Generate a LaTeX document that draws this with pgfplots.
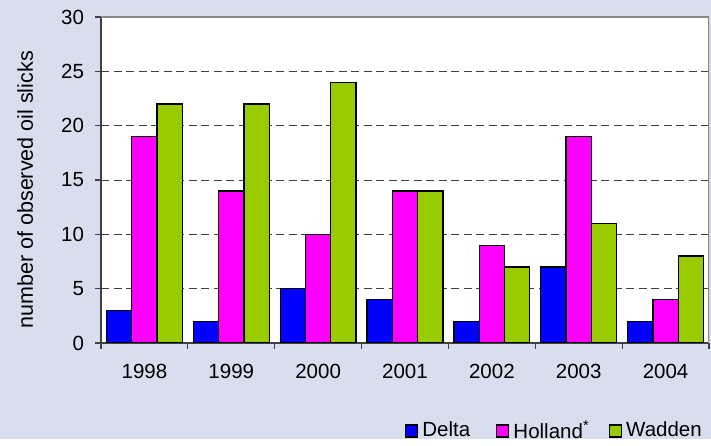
\documentclass[border=0pt]{standalone}
\usepackage{fontspec}
\setmainfont{Liberation Sans}
\usepackage{pgfplots}
\pgfplotsset{compat=1.18}
\definecolor{bg}{RGB}{217,222,238}
\definecolor{delta}{RGB}{0,0,255}
\definecolor{holland}{RGB}{255,0,255}
\definecolor{wadden}{RGB}{153,204,0}
\definecolor{axgray}{RGB}{64,64,64}
\definecolor{frgray}{RGB}{136,136,136}
\begin{document}
\fontsize{20.5pt}{24pt}\selectfont
\begin{tikzpicture}
\fill[bg] (0,0) rectangle (711pt,439pt);
\begin{axis}[
  at={(101pt,96pt)}, anchor=south west,
  scale only axis, width=608pt, height=326pt,
  xmin=-0.5, xmax=6.5, ymin=0, ymax=30,
  axis background/.style={fill=white},
  axis x line*=bottom, axis y line*=left,
  axis line style={draw=axgray, line width=1.3pt, -},
  ytick={0,5,...,30},
  xtick={0,...,6},
  xticklabels={1998,1999,2000,2001,2002,2003,2004},
  major x tick style={draw=none},
  minor xtick={-0.5,0.5,...,6.5},
  tick align=outside,
  major tick length=6pt, minor tick length=6pt,
  tick style={draw=axgray, line width=1.2pt},
  ymajorgrids,
  grid style={draw=axgray, line width=0.9pt, dash pattern=on 8pt off 4.5pt},
  /pgf/number format/assume math mode=true,
  ticklabel style={font=\fontsize{20.5pt}{24pt}\selectfont},
  xticklabel style={yshift=-8pt},
  yticklabel style={xshift=-4pt},
  ylabel={number of observed oil slicks},
  ylabel style={font=\fontsize{21.5pt}{25pt}\selectfont, at={(axis description cs:-0.10,0.47)}, anchor=south},
  legend columns=3,
  legend style={at={(axis description cs:1.0,-0.27)}, anchor=east, draw=none, fill=none,
    font=\fontsize{20.5pt}{24pt}\selectfont,
    /tikz/every even column/.append style={column sep=22pt},
    nodes={inner xsep=4pt}},
  legend image code/.code={\draw[#1, line width=1.2pt] (0pt,-6pt) rectangle (12pt,6pt);},
]
\addplot[ybar, bar width=25.3pt, bar shift=-25.3pt, fill=delta, draw=black, line width=1.3pt]
  coordinates {(0,3) (1,2) (2,5) (3,4) (4,2) (5,7) (6,2)};
\addplot[ybar, bar width=25.3pt, bar shift=0pt, fill=holland, draw=black, line width=1.3pt]
  coordinates {(0,19) (1,14) (2,10) (3,14) (4,9) (5,19) (6,4)};
\addplot[ybar, bar width=25.3pt, bar shift=25.3pt, fill=wadden, draw=black, line width=1.3pt]
  coordinates {(0,22) (1,22) (2,24) (3,14) (4,7) (5,11) (6,8)};
\legend{Delta, Holland\rlap{\textsuperscript{*}}, Wadden}
\draw[frgray, line width=1.3pt] (rel axis cs:0,1) -- (rel axis cs:1,1) -- (rel axis cs:1,0);
\end{axis}
\end{tikzpicture}
\end{document}
